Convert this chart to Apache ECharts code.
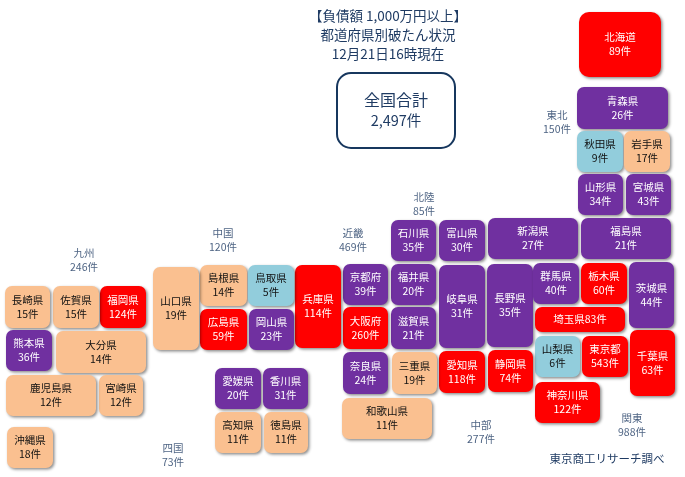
<!DOCTYPE html>
<html>
<head>
<meta charset="utf-8">
<title>都道府県別破たん状況</title>
<style>
    html, body { margin: 0; padding: 0; background: #fff; }
    #main { width: 685px; height: 477px; }
</style>
</head>
<body>
<div id="main"></div>
<script src="https://cdn.jsdelivr.net/npm/echarts@6/dist/echarts.min.js"></script>
<script>
// values
var prefNames = ['北海道', '青森県', '秋田県', '岩手県', '山形県', '宮城県', '新潟県', '福島県', '石川県', '富山県',
    '福井県', '滋賀県', '岐阜県', '長野県', '群馬県', '栃木県', '茨城県', '埼玉県', '山梨県', '東京都',
    '千葉県', '神奈川県', '愛知県', '静岡県', '三重県', '京都府', '大阪府', '奈良県', '和歌山県', '兵庫県',
    '島根県', '鳥取県', '広島県', '岡山県', '山口県', '愛媛県', '香川県', '高知県', '徳島県', '福岡県',
    '佐賀県', '長崎県', '熊本県', '大分県', '宮崎県', '鹿児島県', '沖縄県'];
var prefCounts = [89, 26, 9, 17, 34, 43, 27, 21, 35, 30,
    20, 21, 31, 35, 40, 60, 44, 83, 6, 543,
    63, 122, 118, 74, 19, 39, 260, 24, 11, 114,
    14, 5, 59, 23, 19, 20, 31, 11, 11, 124,
    15, 15, 36, 14, 12, 12, 18];
var regionNames = ['東北', '北陸', '近畿', '中国', '九州', '四国', '中部', '関東'];
var regionCounts = [150, 85, 469, 120, 246, 73, 277, 988];
var titleLines = ['【負債額 1,000万円以上】', '都道府県別破たん状況', '12月21日16時現在'];
var totalLabel = '全国合計';
var totalCount = '2,497件';
var sourceNote = '東京商工リサーチ調べ';

// layout of the map, same order as prefNames: left, top, right, bottom
var tileBoxes = [
    [579, 12, 661, 77], [577, 87, 668, 129], [577, 131, 623, 172], [624, 131, 670, 172],
    [578, 174, 623, 215], [626, 174, 671, 215], [488, 218, 578, 259], [581, 218, 671, 259],
    [391, 220, 436, 261], [439, 220, 485, 261],
    [391, 264, 436, 305], [391, 307, 436, 349], [439, 265, 485, 348], [487, 264, 533, 347],
    [533, 263, 579, 304], [581, 263, 627, 304], [629, 262, 674, 328], [535, 307, 625, 332],
    [535, 336, 580, 377], [582, 336, 628, 377],
    [630, 330, 675, 396], [535, 382, 600, 423], [439, 351, 485, 393], [488, 350, 533, 392],
    [392, 352, 437, 394], [343, 264, 388, 305], [343, 307, 388, 349], [343, 352, 388, 394],
    [342, 398, 432, 439], [295, 265, 341, 348],
    [200, 265, 247, 306], [248, 265, 294, 306], [200, 309, 247, 350], [249, 309, 294, 350],
    [153, 267, 199, 350], [215, 368, 261, 409], [263, 368, 308, 409], [215, 412, 261, 453],
    [264, 412, 308, 453], [100, 286, 146, 328],
    [53, 286, 99, 328], [5, 286, 50, 328], [6, 330, 52, 371], [56, 331, 146, 373],
    [99, 375, 143, 416], [6, 375, 96, 416], [7, 427, 53, 468]
];
// centre of each region label, same order as regionNames
var regionSpots = [[557, 122], [424, 204], [353, 240], [223, 240], [84, 260], [173, 455], [481, 432], [632, 425]];

var NAVY = '#1f3b63';

function tileColor(n) {
    if (n >= 50) return '#ff0000';
    if (n >= 20) return '#7030a0';
    if (n >= 10) return '#fac090';
    return '#92cddc';
}

var tileData = prefNames.map(function(name, i) {
    return {
        name: name,
        value: tileBoxes[i].concat(prefCounts[i])
    };
});

var regionData = regionNames.map(function(name, i) {
    return {
        name: name + '\n' + regionCounts[i] + '件',
        value: regionSpots[i]
    };
});

function renderTile(params, api) {
    var p0 = api.coord([api.value(0), api.value(1)]);
    var p1 = api.coord([api.value(2), api.value(3)]);
    var n = api.value(4);
    var color = tileColor(n);
    var name = prefNames[params.dataIndex];
    // 埼玉県 is too flat for two lines
    var flat = p1[1] - p0[1] < 30;
    return {
        type: 'rect',
        shape: {
            x: p0[0],
            y: p0[1],
            width: p1[0] - p0[0],
            height: p1[1] - p0[1],
            r: name === '北海道' ? 10 : 7
        },
        style: {
            fill: color,
            shadowColor: 'rgba(0,0,0,0.45)',
            shadowBlur: 3,
            shadowOffsetX: 1.5,
            shadowOffsetY: 1.5
        },
        textContent: {
            style: {
                text: flat ? name + n + '件' : name + '\n' + n + '件',
                fill: (n >= 20) ? '#fff' : '#111',
                font: '10.5px "Noto Sans CJK JP"',
                lineHeight: 14,
                align: 'center',
                verticalAlign: 'middle'
            }
        },
        textConfig: { position: 'inside' }
    };
}

var chart = echarts.init(document.getElementById('main'), null, { renderer: 'canvas' });

var option = {
    animation: false,
    backgroundColor: '#fff',
    grid: { left: 0, right: 0, top: 0, bottom: 0 },
    xAxis: { type: 'value', min: 0, max: 685, show: false },
    yAxis: { type: 'value', min: 0, max: 477, inverse: true, show: false },
    title: titleLines.map(function(line, i) {
        return {
            text: line,
            left: 388,
            top: 7 + i * 19,
            textAlign: 'center',
            padding: 0,
            textStyle: {
                color: NAVY,
                fontFamily: 'Noto Sans CJK JP',
                fontWeight: 'normal',
                fontSize: 13.5,
                lineHeight: 17
            }
        };
    }),
    graphic: [{
        type: 'group',
        silent: true,
        children: [{
            type: 'rect',
            shape: { x: 337, y: 73, width: 118, height: 75, r: 14 },
            style: { fill: '#fff', stroke: '#17375e', lineWidth: 2 }
        }, {
            type: 'text',
            x: 396,
            y: 100,
            style: {
                text: totalLabel,
                fill: NAVY,
                font: '16px "Noto Sans CJK JP"',
                align: 'center',
                verticalAlign: 'middle'
            }
        }, {
            type: 'text',
            x: 396,
            y: 120,
            style: {
                text: totalCount,
                fill: NAVY,
                font: '14.5px "Noto Sans CJK JP"',
                align: 'center',
                verticalAlign: 'middle'
            }
        }, {
            type: 'text',
            x: 607,
            y: 459,
            style: {
                text: sourceNote,
                fill: NAVY,
                font: '11.5px "Noto Sans CJK JP"',
                align: 'center',
                verticalAlign: 'middle'
            }
        }]
    }],
    series: [{
        type: 'custom',
        coordinateSystem: 'cartesian2d',
        renderItem: renderTile,
        encode: { x: [0, 2], y: [1, 3] },
        data: tileData,
        silent: true
    }, {
        type: 'scatter',
        symbolSize: 0,
        silent: true,
        data: regionData,
        label: {
            show: true,
            position: 'inside',
            formatter: '{b}',
            color: NAVY,
            fontFamily: 'Noto Sans CJK JP',
            fontSize: 10.5,
            lineHeight: 14,
            align: 'center',
            verticalAlign: 'middle'
        }
    }]
};

chart.setOption(option);
</script>
</body>
</html>
